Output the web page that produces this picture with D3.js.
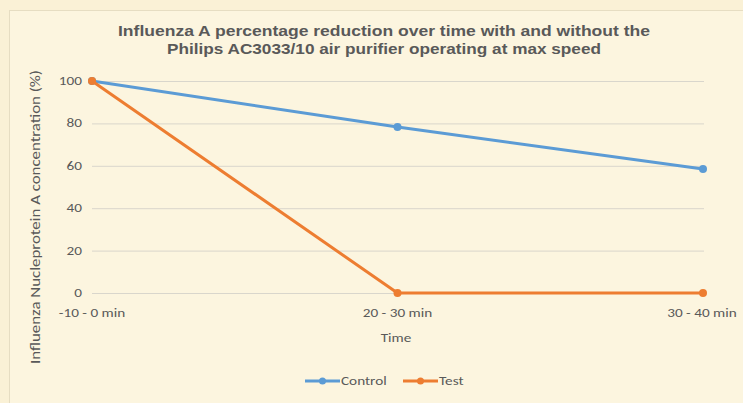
<!DOCTYPE html>
<html>
<head>
<meta charset="utf-8">
<script src="https://cdn.jsdelivr.net/npm/d3@7"></script>
<style>
  html, body { margin: 0; padding: 0; background: #faf1d6; }
  svg { display: block; }
</style>
</head>
<body>
<svg id="chart" width="743" height="403"></svg>
<script>
// chart data
const categories = ["-10 - 0 min", "20 - 30 min", "30 - 40 min"];
const control = [100, 78.3, 58.5];
const test = [100, 0, 0];
const yTicks = [0, 20, 40, 60, 80, 100];
const seriesNames = ["Control", "Test"];
const seriesColors = ["#5b9bd5", "#ed7d31"];

const svg = d3.select("#chart");
const W = 743, H = 403;
const font = "Calibri, Carlito, 'Open Sans', sans-serif";
const sx = 1.27; // the source picture is stretched sideways

// small stretched text helper
function label(parent, tx, ty, str, anchor, size) {
    return parent.append("text")
        .attr("transform", `translate(${tx},${ty}) scale(${sx},1)`)
        .attr("text-anchor", anchor)
        .attr("font-family", font).attr("font-size", size || 12)
        .attr("fill", "#595959")
        .text(str);
}

// paper background + faint border
svg.append("rect").attr("width", W).attr("height", H).attr("fill", "#faf1d6");
svg.append("rect")
    .attr("x", 9.5).attr("y", 10.5).attr("width", W - 8).attr("height", H)
    .attr("fill", "#fcf5df").attr("stroke", "#e6ddc2").attr("stroke-width", 1);

const x = d3.scalePoint().domain(categories).range([92, 703]);
const y = d3.scaleLinear().domain([0, 100]).range([293, 81]);

// gridlines
svg.append("g")
    .selectAll("line")
    .data(yTicks)
    .join("line")
    .attr("x1", 92).attr("x2", 704)
    .attr("y1", d => y(d) + 0.5).attr("y2", d => y(d) + 0.5)
    .attr("stroke", "#d9d6cc").attr("stroke-width", 1);

// y tick labels
const yg = svg.append("g");
yTicks.forEach(d => label(yg, 82, y(d) + 4, d, "end"));

// x tick labels
const xg = svg.append("g");
categories.forEach((d, i) => label(xg, x(d) + (i === 0 ? 0 : i === 2 ? -1 : 0), 317, d, "middle"));

// axis titles
label(svg, 396, 342, "Time", "middle");

svg.append("text")
    .attr("transform", "translate(40,217) rotate(-90)")
    .attr("text-anchor", "middle")
    .attr("font-family", font).attr("font-size", 14)
    .attr("textLength", 294).attr("lengthAdjust", "spacingAndGlyphs")
    .attr("fill", "#595959")
    .text("Influenza Nucleprotein A concentration (%)");

// chart title
const titleLines = [
    {text: "Influenza A percentage reduction over time with and without the", y: 36, len: 532},
    {text: "Philips AC3033/10 air purifier operating at max speed", y: 54, len: 434}
];
svg.append("g")
    .selectAll("text")
    .data(titleLines)
    .join("text")
    .attr("x", 384).attr("y", d => d.y)
    .attr("text-anchor", "middle")
    .attr("font-family", "'Liberation Sans', Arial, sans-serif")
    .attr("font-size", 15).attr("font-weight", "bold")
    .attr("textLength", d => d.len).attr("lengthAdjust", "spacingAndGlyphs")
    .attr("fill", "#595959")
    .text(d => d.text);

// series lines
const line = d3.line()
    .x((d, i) => x(categories[i]))
    .y(d => y(d));

const series = [control, test];
series.forEach((vals, s) => {
    svg.append("path")
        .datum(vals)
        .attr("fill", "none")
        .attr("stroke", seriesColors[s])
        .attr("stroke-width", 3)
        .attr("stroke-linejoin", "round")
        .attr("d", line);
    svg.append("g")
        .selectAll("circle")
        .data(vals)
        .join("circle")
        .attr("cx", (d, i) => x(categories[i]))
        .attr("cy", d => y(d))
        .attr("r", 4)
        .attr("fill", seriesColors[s]);
});

// legend
const legendX = [305, 403];
seriesNames.forEach((name, i) => {
    const g = svg.append("g").attr("transform", `translate(${legendX[i]},381)`);
    g.append("line").attr("x1", 0).attr("x2", 35).attr("y1", 0).attr("y2", 0)
        .attr("stroke", seriesColors[i]).attr("stroke-width", 3);
    g.append("circle").attr("cx", 17.5).attr("cy", 0).attr("r", 3.5).attr("fill", seriesColors[i]);
    label(g, 36, 4, name, "start");
});
</script>
</body>
</html>
